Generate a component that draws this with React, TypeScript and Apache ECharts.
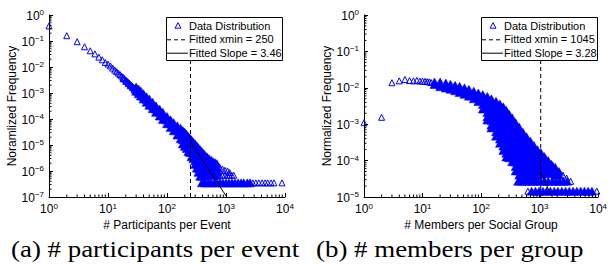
import React, { useEffect, useRef } from 'react';
import * as echarts from 'echarts';

const FONT = '"Liberation Sans", Arial, Helvetica, sans-serif';
const SERIF = '"Liberation Serif", "Times New Roman", serif';
const BLUE = '#0000ff';

// ---------- (a) participants per event ----------
const leftSparse: [number, number][] = [
  [1, 0.38], [2, 0.16], [3, 0.094], [4, 0.06], [5, 0.042], [6, 0.032], [7, 0.024], [8, 0.019],
  [9, 0.015], [10, 0.013], [11, 0.011], [12, 0.0091], [13, 0.0076], [14, 0.0066], [15, 0.0058],
  [16, 0.0051], [17, 0.0045], [18, 0.004], [19, 0.0036], [20, 0.0032], [21, 0.0029], [22, 0.0026],
  [23, 0.0024], [24, 0.0021], [25, 0.002], [26, 0.0018], [27, 0.0017], [28, 0.0015],
  [18, 0.0035], [20, 0.0028], [22, 0.0023], [24, 0.0019], [26, 0.0016], [28, 0.0013],
];
const leftBand: [number, number[]][] = [
  [30, [1.7e-3, 1.45e-3, 1.17e-3]],
  [33, [1.41e-3, 1.15e-3, 9.3e-4]],
  [36, [1.2e-3, 9.5e-4, 7.6e-4]],
  [40, [9.3e-4, 7.4e-4, 5.9e-4]],
  [45, [7.2e-4, 5.6e-4, 4.4e-4]],
  [50, [5.9e-4, 4.5e-4, 3.4e-4]],
  [57, [4.4e-4, 3.3e-4, 2.5e-4]],
  [65, [3.2e-4, 2.4e-4, 1.8e-4]],
  [75, [2.4e-4, 1.8e-4, 1.3e-4]],
  [85, [1.8e-4, 1.3e-4, 9.5e-5]],
  [100, [1.26e-4, 9.1e-5, 6.6e-5]],
  [115, [9.3e-5, 6.6e-5, 4.7e-5]],
  [130, [7.2e-5, 5.0e-5, 3.5e-5]],
  [150, [5.5e-5, 3.6e-5, 2.4e-5]],
  [170, [4.4e-5, 2.75e-5, 1.74e-5]],
  [185, [3.6e-5, 2.4e-5, 1.6e-5, 1.1e-5]],
  [200, [3.1e-5, 2.0e-5, 1.35e-5, 8.9e-6]],
  [215, [2.6e-5, 1.7e-5, 1.12e-5, 7.4e-6]],
  [230, [2.1e-5, 1.4e-5, 8.9e-6, 5.6e-6]],
  [245, [1.8e-5, 1.2e-5, 7.9e-6, 5.2e-6]],
  [260, [1.6e-5, 1.1e-5, 7.6e-6, 5.2e-6, 3.5e-6]],
  [280, [1.3e-5, 8.9e-6, 6.2e-6, 4.3e-6, 3.0e-6]],
  [300, [1.1e-5, 7.6e-6, 5.2e-6, 3.6e-6, 2.5e-6, 1.8e-6]],
  [320, [9.3e-6, 6.3e-6, 4.3e-6, 2.9e-6, 1.95e-6, 1.3e-6]],
  [340, [7.9e-6, 5.5e-6, 3.8e-6, 2.6e-6, 1.8e-6, 1.26e-6, 8.9e-7]],
  [365, [6.6e-6, 4.5e-6, 3.0e-6, 2.0e-6, 1.4e-6, 9.3e-7, 6.3e-7]],
  [390, [5.6e-6, 3.9e-6, 2.7e-6, 1.9e-6, 1.3e-6, 8.9e-7, 6.3e-7]],
  [420, [4.7e-6, 3.2e-6, 2.1e-6, 1.45e-6, 9.8e-7, 6.6e-7]],
  [450, [3.9e-6, 2.6e-6, 1.8e-6, 1.2e-6, 8.1e-7, 6.3e-7]],
  [485, [3.4e-6, 2.3e-6, 1.55e-6, 1.05e-6, 7.1e-7]],
  [520, [2.9e-6, 2.0e-6, 1.4e-6, 9.5e-7, 6.9e-7]],
  [560, [2.6e-6, 1.7e-6, 1.15e-6, 7.6e-7]],
  [600, [2.3e-6, 1.6e-6, 1.07e-6, 7.1e-7]],
  [650, [2.1e-6, 1.4e-6, 9.5e-7, 6.9e-7]],
  [700, [1.9e-6, 1.3e-6, 9.3e-7, 6.9e-7]],
];
const leftFloorX = [390, 440, 500, 560, 630, 700, 790, 890, 1000, 1120, 1260, 1420, 1600, 1800, 2000, 2300, 2550];
const leftFloorY = 3.5e-7;
const leftEdge: [number, number][] = [
  [780, 1.4e-6], [780, 1.0e-6], [780, 6.9e-7], [870, 1.2e-6], [870, 6.9e-7], [960, 1.07e-6],
  [960, 6.9e-7], [1060, 1.0e-6], [1060, 6.9e-7], [1150, 8.7e-7], [1150, 6.9e-7], [1250, 6.9e-7],
  [1350, 6.9e-7],
  [2850, 3.5e-7], [3200, 3.5e-7], [3600, 3.5e-7], [4100, 3.5e-7], [4600, 3.5e-7], [5100, 3.5e-7],
  [5800, 3.5e-7], [6500, 3.5e-7], [8900, 3.5e-7],
];
const leftXmin = 250;
const leftFit: [number, number][] = [[250, 1.35e-5], [1030, 1e-7]];
const leftNames = ['Data Distribution', 'Fitted xmin = 250', 'Fitted Slope = 3.46'];

// ---------- (b) members per social group ----------
const rightSparse: [number, number][] = [
  [1, 1.1e-3], [2, 1.55e-3], [3, 0.0138], [4, 0.0155], [5, 0.017], [6, 0.0158], [7, 0.0155],
  [8, 0.016], [9, 0.0153], [10, 0.0152], [11, 0.015], [12, 0.0148], [13, 0.0145], [14, 0.014],
];
const rightBand: [number, number[]][] = [
  [16, [0.0145, 0.0123]],
  [20, [0.0145, 0.0123, 0.0107]],
  [25, [0.0135, 0.0115, 0.0098]],
  [30, [0.0126, 0.0107, 0.0091]],
  [36, [0.0117, 0.01, 0.0083]],
  [43, [0.011, 0.0091, 0.0074]],
  [52, [0.01, 0.0081, 0.0066]],
  [62, [0.0091, 0.0074, 0.0059]],
  [75, [0.0081, 0.0065, 0.005]],
  [90, [0.0072, 0.0055, 0.0042]],
  [107, [0.0065, 0.0048, 0.0035, 0.0026]],
  [128, [0.0058, 0.0045, 0.0035, 0.0027, 0.0021, 0.0016, 0.0013]],
  [150, [0.005, 0.0038, 0.0029, 0.0022, 0.00166, 0.00126, 9.5e-4, 7.9e-4]],
  [180, [0.0043, 0.0032, 0.0025, 0.0019, 0.0014, 0.00107, 8.1e-4, 6.2e-4, 4.7e-4]],
  [210, [0.0036, 0.0028, 0.0021, 0.0016, 0.0012, 8.9e-4, 6.8e-4, 5.1e-4, 3.9e-4, 3.0e-4]],
  [240, [0.003, 0.0023, 0.0017, 0.0013, 0.001, 7.6e-4, 5.6e-4, 4.3e-4, 3.2e-4, 2.5e-4, 1.9e-4]],
  [270, [0.0024, 0.0018, 0.0014, 0.001, 7.9e-4, 6.0e-4, 4.6e-4, 3.5e-4, 2.8e-4, 2.1e-4, 1.6e-4, 1.26e-4]],
  [300, [1.9e-3, 1.45e-3, 1.1e-3, 8.3e-4, 6.3e-4, 4.8e-4, 3.6e-4, 2.8e-4, 2.1e-4, 1.6e-4, 1.2e-4]],
  [340, [1.5e-3, 1.1e-3, 8.5e-4, 6.5e-4, 4.9e-4, 3.7e-4, 2.8e-4, 2.1e-4, 1.6e-4, 1.2e-4, 9.3e-5]],
  [390, [1.1e-3, 8.3e-4, 6.3e-4, 4.8e-4, 3.6e-4, 2.8e-4, 2.1e-4, 1.6e-4, 1.2e-4, 9.1e-5, 6.9e-5, 5.2e-5]],
  [450, [8.3e-4, 6.3e-4, 4.8e-4, 3.6e-4, 2.8e-4, 2.1e-4, 1.6e-4, 1.2e-4, 9.1e-5, 6.9e-5, 5.2e-5, 4.0e-5]],
  [520, [6.0e-4, 4.6e-4, 3.5e-4, 2.6e-4, 2.0e-4, 1.5e-4, 1.15e-4, 8.7e-5, 6.6e-5, 5.0e-5, 3.8e-5]],
  [600, [4.5e-4, 3.4e-4, 2.6e-4, 1.95e-4, 1.5e-4, 1.1e-4, 8.5e-5, 6.5e-5, 4.9e-5, 3.7e-5]],
  [700, [3.4e-4, 2.6e-4, 1.95e-4, 1.5e-4, 1.1e-4, 8.5e-5, 6.5e-5, 4.9e-5, 3.7e-5]],
  [800, [2.6e-4, 2.0e-4, 1.5e-4, 1.15e-4, 8.7e-5, 6.6e-5, 5.0e-5, 3.8e-5]],
  [920, [2.0e-4, 1.55e-4, 1.2e-4, 8.9e-5, 6.8e-5, 5.1e-5, 3.9e-5]],
  [1050, [1.66e-4, 1.26e-4, 9.5e-5, 7.2e-5, 5.5e-5, 4.2e-5]],
  [1200, [1.3e-4, 1.0e-4, 7.6e-5, 5.8e-5, 4.4e-5]],
  [1400, [1.0e-4, 7.6e-5, 5.8e-5, 4.4e-5]],
  [1600, [7.9e-5, 6.0e-5, 4.6e-5]],
  [1850, [6.6e-5, 5.0e-5, 4.0e-5]],
  [2150, [5.0e-5, 4.0e-5]],
];
const rightFloor2X = [430, 500, 580, 670, 780, 900, 1050, 1220, 1400, 1650, 1900, 2200, 2550, 2950];
const rightFloor2Y = 2.7e-5;
const rightFloor1X = [730, 850, 980, 1140, 1320, 1530, 1780, 2060, 2400, 2780, 3220, 3740, 4340, 5030, 5840, 6770, 7850];
const rightFloor1Y = 1.45e-5;
const rightEdge: [number, number][] = [
  [1250, 1.2e-4], [1700, 7.2e-5], [2500, 4.0e-5], [2900, 3.3e-5], [3400, 2.7e-5],
  [630, 1.45e-5], [9500, 1.45e-5],
];
const rightXmin = 1045;
const rightFit: [number, number][] = [[1045, 4.5e-5], [1650, 1e-5]];
const rightNames = ['Data Distribution', 'Fitted xmin = 1045', 'Fitted Slope = 3.28'];

const captions = ['(a) # participants per event', '(b) # members per group'];

const minorDigits = [2, 3, 4, 5, 6, 7, 8, 9];

function minorTicks(lo: number, hi: number): number[] {
  const out: number[] = [];
  for (let e = lo; e < hi; e++) for (const d of minorDigits) out.push(d * Math.pow(10, e));
  return out;
}

function flatten(band: [number, number[]][]): [number, number][] {
  const out: [number, number][] = [];
  band.forEach(([x, ys]) => ys.forEach((y) => out.push([x, y])));
  return out;
}

const supLabel = (v: number) => {
  const e = Math.round(Math.log10(v));
  return `{b|10}{s|${e < 0 ? '\u2212' + -e : e}}`;
};

const rich = {
  b: { fontSize: 12, fontFamily: FONT, color: '#000', lineHeight: 13, verticalAlign: 'bottom' },
  s: { fontSize: 8, fontFamily: FONT, color: '#000', lineHeight: 8, verticalAlign: 'top' },
};

function xAxis(gi: number, name: string) {
  return {
    type: 'log', logBase: 10, gridIndex: gi, min: 1, max: 10000, interval: 1,
    name, nameLocation: 'middle', nameGap: 22, nameMoveOverlap: false,
    nameTextStyle: { fontSize: 12, fontFamily: FONT, color: '#000' },
    axisLine: { show: true, lineStyle: { color: '#000', width: 1 } },
    axisTick: { show: true, inside: true, length: 4, lineStyle: { color: '#000' } },
    axisLabel: { formatter: supLabel, rich, margin: 5 },
    splitLine: { show: false },
  };
}
function yAxis(gi: number, name: string, min: number) {
  return {
    type: 'log', logBase: 10, gridIndex: gi, min, max: 1, interval: 1,
    name, nameLocation: 'middle', nameGap: 30,
    nameTextStyle: { fontSize: 12, fontFamily: FONT, color: '#000' },
    axisLine: { show: true, lineStyle: { color: '#000', width: 1 } },
    axisTick: { show: true, inside: true, length: 4, lineStyle: { color: '#000' } },
    axisLabel: { formatter: supLabel, rich, margin: 5 },
    splitLine: { show: false },
  };
}

function tickSeries(gi: number, vals: number[], axis: 'x' | 'y', fixed: number) {
  return {
    type: 'custom', xAxisIndex: gi, yAxisIndex: gi, silent: true, clip: false, z: 5,
    data: vals.map((v) => (axis === 'x' ? [v, fixed] : [fixed, v])),
    renderItem: (_p: any, api: any) => {
      const p = api.coord([api.value(0), api.value(1)]);
      return {
        type: 'line',
        shape: axis === 'x'
          ? { x1: p[0], y1: p[1], x2: p[0], y2: p[1] - 2.5 }
          : { x1: p[0], y1: p[1], x2: p[0] + 2.5, y2: p[1] },
        style: { stroke: '#000', lineWidth: 1 },
      };
    },
  };
}

function chartSeries(gi: number, sparse: [number, number][], band: [number, number][], edge: [number, number][],
  names: string[], xmin: number, yMin: number, fit: [number, number][]) {
  return [
    {
      type: 'scatter', name: 'band' + gi, xAxisIndex: gi, yAxisIndex: gi, silent: true,
      symbol: 'triangle', symbolSize: [9, 8],
      itemStyle: { color: BLUE, opacity: 1, borderColor: BLUE, borderWidth: 0.5 },
      data: band, z: 2,
    },
    {
      type: 'scatter', name: names[0], xAxisIndex: gi, yAxisIndex: gi, silent: true,
      symbol: 'triangle', symbolSize: [6, 6],
      itemStyle: { color: 'rgba(0,0,0,0)', opacity: 1, borderColor: BLUE, borderWidth: 1 },
      data: [...sparse, ...edge], z: 3,
    },
    {
      type: 'line', name: names[1], xAxisIndex: gi, yAxisIndex: gi, silent: true, symbol: 'none',
      data: [[xmin, yMin], [xmin, 1]], lineStyle: { color: '#000', width: 1, type: [4, 3] }, z: 4,
    },
    {
      type: 'line', name: names[2], xAxisIndex: gi, yAxisIndex: gi, silent: true, symbol: 'none',
      data: fit, lineStyle: { color: '#000', width: 1 }, z: 4,
    },
  ];
}

function legendGraphic(left: number, names: string[]) {
  const top = 17.5;
  const rows = [25.7, 39.3, 52.7];
  const Z = 100;
  const txt = (i: number) => ({
    type: 'text', x: left + 23, y: rows[i], z: Z + 1,
    style: { text: names[i], fontSize: 11, fontFamily: FONT, fill: '#000', verticalAlign: 'middle' },
  });
  return {
    type: 'group', silent: true,
    children: [
      { type: 'rect', z: Z, shape: { x: left + 0.5, y: top, width: 116, height: 43 }, style: { fill: '#fff', stroke: '#000', lineWidth: 1 } },
      { type: 'polygon', z: Z + 1, shape: { points: [[left + 9, rows[0] + 2.5], [left + 15, rows[0] + 2.5], [left + 12, rows[0] - 3]] },
        style: { fill: 'none', stroke: BLUE, lineWidth: 1 } },
      { type: 'line', z: Z + 1, shape: { x1: left + 1, y1: rows[1] + 0.5, x2: left + 22, y2: rows[1] + 0.5 },
        style: { stroke: '#000', lineWidth: 1, lineDash: [4, 3] } },
      { type: 'line', z: Z + 1, shape: { x1: left + 1, y1: rows[2] + 0.5, x2: left + 22, y2: rows[2] + 0.5 },
        style: { stroke: '#000', lineWidth: 1 } },
      txt(0), txt(1), txt(2),
    ],
  };
}

const option: any = {
  animation: false,
  backgroundColor: '#fff',
  grid: [
    { left: 49, top: 15, width: 236, height: 182 },
    { left: 364, top: 15, width: 237, height: 182 },
  ],
  xAxis: [xAxis(0, '# Participants per Event'), xAxis(1, '# Members per Social Group')],
  yAxis: [yAxis(0, 'Noramlized Frequency', 1e-7), yAxis(1, 'Normalized Frequency', 1e-5)],
  series: [
    ...chartSeries(0, leftSparse, [...flatten(leftBand), ...leftFloorX.map((x) => [x, leftFloorY] as [number, number])],
      leftEdge, leftNames, leftXmin, 1e-7, leftFit),
    ...chartSeries(1, rightSparse, [
      ...flatten(rightBand),
      ...rightFloor2X.map((x) => [x, rightFloor2Y] as [number, number]),
      ...rightFloor1X.map((x) => [x, rightFloor1Y] as [number, number]),
    ], rightEdge, rightNames, rightXmin, 1e-5, rightFit),
    tickSeries(0, minorTicks(0, 4), 'x', 1e-7),
    tickSeries(0, minorTicks(-7, 0), 'y', 1),
    tickSeries(1, minorTicks(0, 4), 'x', 1e-5),
    tickSeries(1, minorTicks(-5, 0), 'y', 1),
  ],
  graphic: [
    legendGraphic(166, leftNames),
    legendGraphic(481, rightNames),
    { type: 'text', x: 11, y: 249, scaleX: 1.17, silent: true,
      style: { text: captions[0], fontSize: 23, fontFamily: SERIF, fill: '#000', verticalAlign: 'middle' } },
    { type: 'text', x: 316, y: 249, scaleX: 1.17, silent: true,
      style: { text: captions[1], fontSize: 23, fontFamily: SERIF, fill: '#000', verticalAlign: 'middle' } },
  ],
};

export default function App() {
  const ref = useRef<HTMLDivElement>(null);
  useEffect(() => {
    document.body.style.margin = '0';
    const chart = echarts.init(ref.current!, null, { renderer: 'svg' });
    chart.setOption(option);
    return () => chart.dispose();
  }, []);
  return <div ref={ref} style={{ width: 610, height: 264 }} />;
}
